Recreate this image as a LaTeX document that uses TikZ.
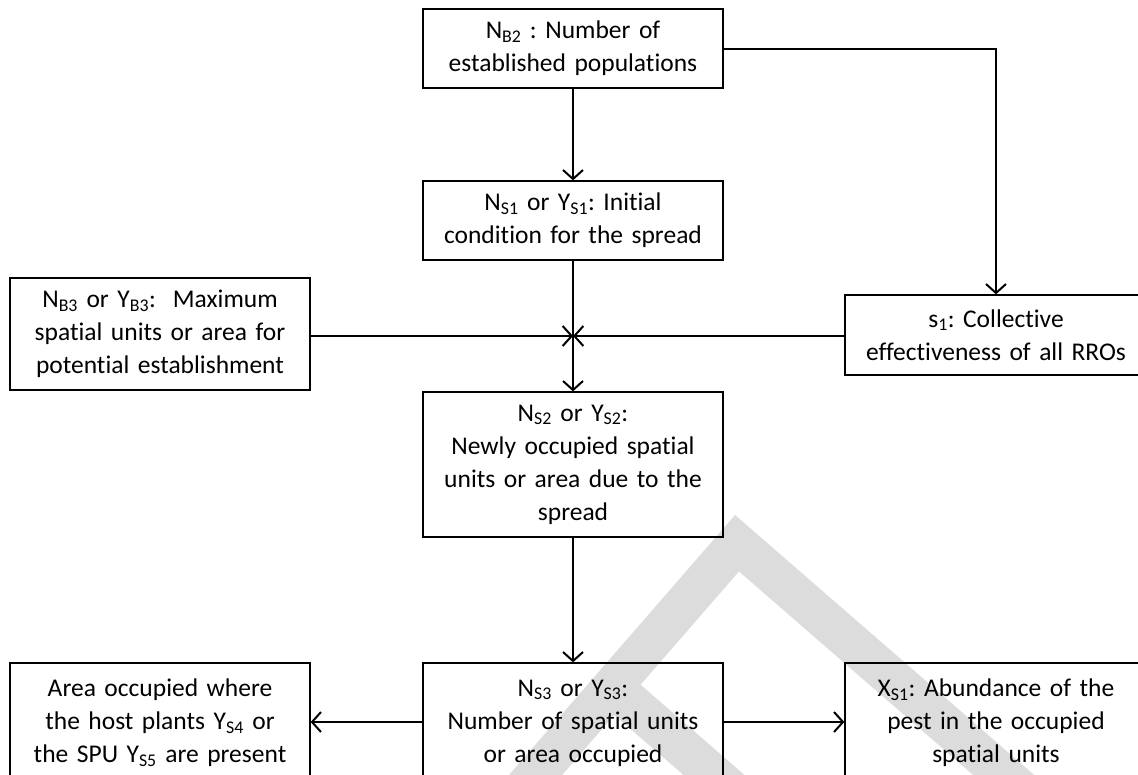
\documentclass[tikz,border=0pt]{standalone}
\usepackage{fontspec}
\setmainfont{Carlito}[Ligatures={NoCommon}]
\usetikzlibrary{arrows.meta}
\definecolor{wmgray}{RGB}{220,220,220}
\frenchspacing
\begin{document}
\begin{tikzpicture}[x=1pt,y=-1pt,
  box/.style={draw, line width=1.3pt, minimum width=300pt, text width=296pt,
    align=center, inner sep=0pt, font=\fontsize{25.5}{33}\selectfont},
  conn/.style={line width=2pt, -{Straight Barb[length=9pt,width=20pt,line width=2pt]}}]
\useasboundingbox (0,0) rectangle (1138,774);
\clip (0,0) rectangle (1138,774);

% faint slanted letter in the background
\begin{scope}[shift={(735,515)}, x={(0.755pt,-0.656pt)}, y={(-0.656pt,-0.755pt)}]
  \fill[wmgray] (0,0) -- (520,0) -- (520,40) -- (40,40) -- (40,190)
    -- (260,190) -- (260,230) -- (40,230) -- (40,420) -- (0,420) -- cycle;
\end{scope}

% boxes
\node[box, minimum height=79pt] (nb2) at (573,48.5)
  {N\textsubscript{B2} : Number of\\established populations};
\node[box, minimum height=79pt] (ns1) at (573,220.5)
  {N\textsubscript{S1} or Y\textsubscript{S1}: Initial\\condition for the spread};
\node[box, minimum height=112pt] (nb3) at (160,334)
  {N\textsubscript{B3} or Y\textsubscript{B3}:\ \ Maximum\\spatial units or area for\\potential establishment};
\node[box, minimum width=302pt, minimum height=80pt] (s1) at (996,335)
  {s\textsubscript{1}: Collective\\effectiveness of all RROs};
\node[box, minimum height=145pt] (ns2) at (573,464.5)
  {N\textsubscript{S2} or Y\textsubscript{S2}:\\Newly occupied spatial\\units or area due to the\\spread};
\node[box, minimum height=120pt] (ns3) at (573,723)
  {N\textsubscript{S3} or Y\textsubscript{S3}:\\Number of spatial units\\or area occupied};
\node[box, minimum height=120pt] (host) at (160,723)
  {Area occupied where\\the host plants Y\textsubscript{S4} or\\the SPU Y\textsubscript{S5} are present};
\node[box, minimum width=302pt, minimum height=120pt] (xs1) at (996,723)
  {X\textsubscript{S1}: Abundance of the\\pest in the occupied\\spatial units};

% junction above the spread box
\coordinate (j) at (573,336);

% connectors
\draw[conn] (nb2) -- (ns1);
\draw[conn] (nb2.east |- 0,49) -| (s1.north);
\draw[conn] (ns1) -- (ns2);
\draw[conn] (nb3.east |- j) -- (j);
\draw[conn] (s1.west |- j) -- (j);
\draw[conn] (ns2) -- (ns3);
\draw[conn] (ns3.west |- 0,722) -- (host.east |- 0,722);
\draw[conn] (ns3.east |- 0,722) -- (xs1.west |- 0,722);
\end{tikzpicture}
\end{document}
